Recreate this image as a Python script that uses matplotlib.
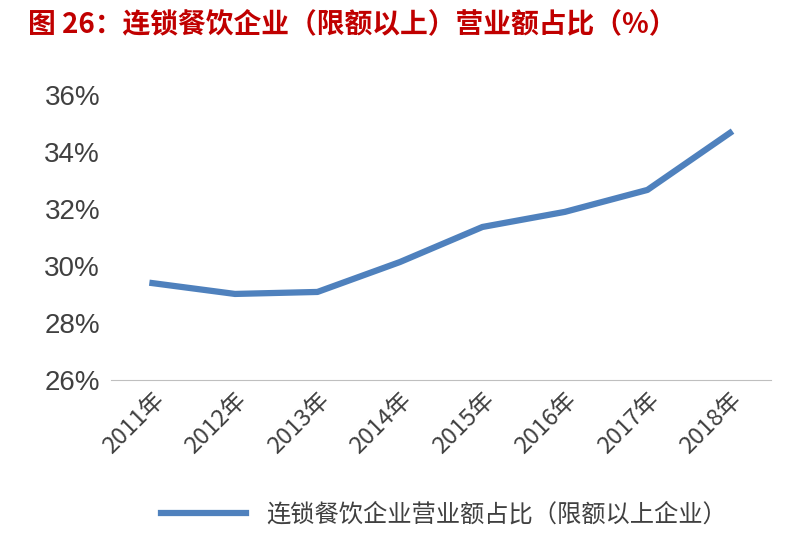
import matplotlib
matplotlib.use("Agg")
import matplotlib.pyplot as plt
from matplotlib.ticker import FuncFormatter

plt.rcParams['font.family'] = ['Noto Sans CJK SC', 'DejaVu Sans']

years = ["2011年", "2012年", "2013年", "2014年", "2015年", "2016年", "2017年", "2018年"]
share = [29.4, 29.02, 29.09, 30.14, 31.37, 31.9, 32.67, 34.67]
series_name = "连锁餐饮企业营业额占比（限额以上企业）"
title = "图 26：连锁餐饮企业（限额以上）营业额占比（%）"

fig = plt.figure(figsize=(8, 5.46), dpi=100)
ax = fig.add_axes([0.139, 0.304, 0.825, 0.522])
x = list(range(len(years)))
ax.plot(x, share, color="#4F81BD", lw=4.5, label=series_name)
ax.set_xlim(-0.5, len(years) - 0.5)
ax.set_ylim(26, 36)
ax.set_yticks([26, 28, 30, 32, 34, 36])
ax.yaxis.set_major_formatter(FuncFormatter(lambda v, p: f"{v:.0f}%"))
ax.set_xticks(x)
ax.set_xticklabels(years, rotation=45, ha="right", rotation_mode="anchor")
for lab in ax.get_yticklabels():
    lab.set_family(["Liberation Sans", "DejaVu Sans"])
for s in ["top", "right", "left"]:
    ax.spines[s].set_visible(False)
ax.spines["bottom"].set_color("#BFBFBF")
ax.tick_params(axis="y", length=0, labelsize=20, colors="#404040", pad=8)
ax.tick_params(axis="x", length=0, labelsize=17, colors="#404040", pad=6)

fig.text(0.035, 0.955, title, color="#C00000", fontsize=20, fontweight="bold", va="center")
fig.legend(loc="center", bbox_to_anchor=(0.555, 0.057), frameon=False, fontsize=17.5,
           handlelength=3.5, labelcolor="#404040")
fig.savefig("out.png", dpi=100)
